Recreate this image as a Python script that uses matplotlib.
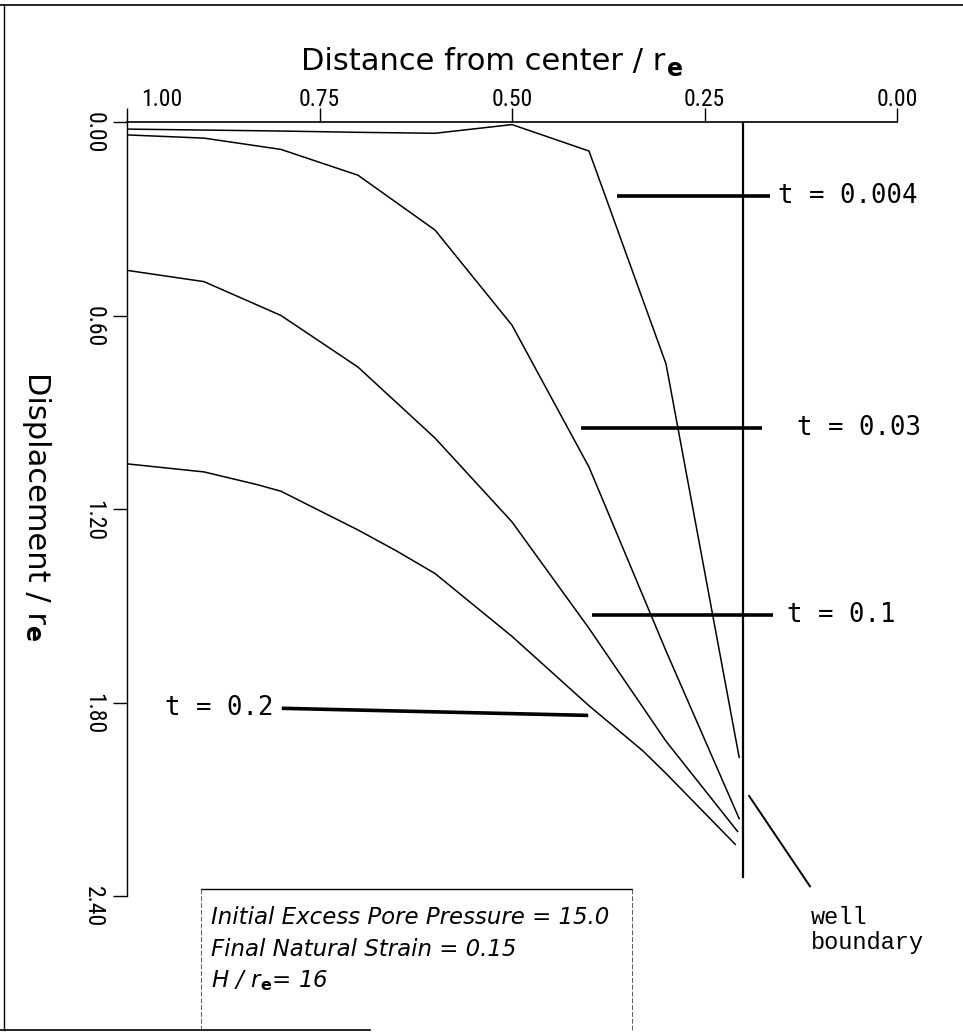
import matplotlib
matplotlib.use('Agg')
import matplotlib.pyplot as plt
from matplotlib import font_manager
from matplotlib.lines import Line2D

# radial distance from center (fraction of r_e) and displacement (fraction of r_e)
dist_t0004 = [1.0, 0.9, 0.8, 0.7, 0.6, 0.5, 0.4, 0.3, 0.205]
disp_t0004 = [0.022, 0.025, 0.028, 0.032, 0.035, 0.008, 0.09, 0.75, 1.97]

dist_t003 = [1.0, 0.9, 0.8, 0.7, 0.6, 0.5, 0.4, 0.3, 0.205]
disp_t003 = [0.04, 0.05, 0.085, 0.165, 0.335, 0.63, 1.07, 1.64, 2.16]

dist_t01 = [1.0, 0.9, 0.8, 0.7, 0.6, 0.5, 0.4, 0.3, 0.207]
disp_t01 = [0.46, 0.495, 0.60, 0.76, 0.98, 1.24, 1.57, 1.92, 2.20]

dist_t02 = [1.0, 0.9, 0.83, 0.8, 0.7, 0.65, 0.6, 0.5, 0.4, 0.33, 0.3, 0.21]
disp_t02 = [1.06, 1.085, 1.125, 1.145, 1.265, 1.33, 1.40, 1.595, 1.81, 1.95, 2.02, 2.24]

# leader lines for the time labels
time_labels = ['t = 0.004', 't = 0.03', 't = 0.1', 't = 0.2']
lead_x0 = [0.364, 0.41, 0.396, 0.799]
lead_x1 = [0.165, 0.175, 0.161, 0.401]
lead_y0 = [0.228, 0.948, 1.528, 1.818]
lead_y1 = [0.228, 0.948, 1.528, 1.84]
label_x = [0.155, 0.13, 0.143, 0.81]

well_r = 0.2
well_depth = 2.34

x_ticks = [1.0, 0.75, 0.5, 0.25, 0.0]
y_ticks = [0.0, 0.6, 1.2, 1.8, 2.4]

info_lines = ['Initial Excess Pore Pressure = 15.0',
              'Final Natural Strain = 0.15',
              r'H / r$_\mathbf{e}$= 16']

# narrow face for the plotter-style numbers, if one is around
have = {f.name for f in font_manager.fontManager.ttflist}
narrow = 'DejaVu Sans'
for cand in ['Liberation Sans Narrow', 'Roboto Condensed', 'Open Sans Condensed',
             'Noto Sans Condensed', 'DejaVu Sans Condensed', 'Noto Sans Display Condensed']:
    if cand in have:
        narrow = cand
        break

W, H = 963, 1035
fig = plt.figure(figsize=(W / 100, H / 100), dpi=100)
ax = fig.add_axes([127 / W, (H - 896) / H, 770 / W, 774 / H])

for d, s in [(dist_t0004, disp_t0004), (dist_t003, disp_t003),
             (dist_t01, disp_t01), (dist_t02, disp_t02)]:
    ax.plot(d, s, color='black', lw=1.1)

# well boundary
ax.plot([well_r, well_r], [0, well_depth], color='black', lw=1.6)
ax.plot([0.192, 0.113], [2.09, 2.37], color='black', lw=1.4, clip_on=False)
ax.text(0.112, 2.43, 'well\nboundary', family='Liberation Mono', fontsize=17,
        ha='left', va='top', linespacing=1.15)

for i, lab in enumerate(time_labels):
    ax.plot([lead_x0[i], lead_x1[i]], [lead_y0[i], lead_y1[i]],
            color='black', lw=2.6, solid_capstyle='butt', clip_on=False)
    if i < 3:
        ax.text(label_x[i], lead_y1[i], lab, family='DejaVu Sans Mono',
                fontsize=18.5, ha='left', va='center')
    else:
        ax.text(label_x[i], lead_y0[i], lab, family='DejaVu Sans Mono',
                fontsize=18.5, ha='right', va='center')

ax.set_xlim(1.0, 0.0)
ax.set_ylim(2.4, 0.0)
ax.spines['right'].set_visible(False)
ax.spines['bottom'].set_visible(False)
ax.spines['top'].set_linewidth(1.2)
ax.spines['left'].set_linewidth(1.0)
ax.xaxis.set_ticks_position('top')
ax.set_xticks(x_ticks)
ax.set_yticks(y_ticks)
ax.set_xticklabels([])
ax.set_yticklabels([])
ax.tick_params(axis='x', direction='out', length=10, width=1)
ax.tick_params(axis='y', direction='out', length=10, width=1)

for i, v in enumerate(x_ticks):
    dx = 25 if i == 0 else 0
    ax.annotate(f'{v:.2f}', xy=(v, 1), xycoords=ax.get_xaxis_transform(),
                xytext=(dx, 8), textcoords='offset points',
                ha='center', va='bottom', family=narrow, fontsize=17)
for v in y_ticks:
    ax.annotate(f'{v:.2f}', xy=(0, v), xycoords=ax.get_yaxis_transform(),
                xytext=(-24, -8), textcoords='offset points', rotation=270,
                ha='center', va='center', family=narrow, fontsize=17)

# axis titles with bold subscript e
xt = fig.text(301 / W, 1 - 70 / H, 'Distance from center / r', ha='left',
              va='baseline', fontsize=22)
ax.annotate('e', xy=(1, 0), xycoords=xt, xytext=(1.5, 0),
            textcoords='offset points', va='baseline', ha='left',
            fontsize=17, fontweight='bold')
yt = fig.text(36 / W, 1 - 372 / H, 'Displacement / r', rotation=270,
              ha='center', va='top', fontsize=22)
ax.annotate('e', xy=(0.5, 0), xycoords=yt, xytext=(-3, -1.5),
            textcoords='offset points', rotation=270, va='top', ha='center',
            fontsize=17, fontweight='bold')

# parameter box
fig.add_artist(Line2D([201 / W, 632 / W], [1 - 889 / H, 1 - 889 / H],
                      color='black', lw=1.0))
for xb in (201, 632):
    fig.add_artist(Line2D([xb / W, xb / W], [1 - 889 / H, 1 - 1030 / H],
                          color='0.35', lw=0.7, ls=(0, (5, 2))))
for k, line in enumerate(info_lines):
    fig.text(211 / W, 1 - (917 + 32 * k) / H, line, ha='left', va='center',
             style='italic', fontsize=16.5)

# page frame
fig.add_artist(Line2D([0, 1], [1 - 5 / H, 1 - 5 / H], color='black', lw=1.2))
fig.add_artist(Line2D([4 / W, 4 / W], [1 - 5 / H, 1 - 1030 / H], color='black', lw=1.0))
fig.add_artist(Line2D([0, 370 / W], [1 - 1030 / H, 1 - 1030 / H], color='black', lw=1.2))

fig.savefig('out.png', dpi=100)
